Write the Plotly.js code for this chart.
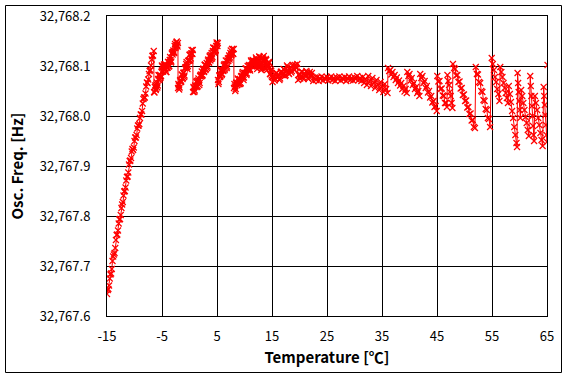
<!DOCTYPE html>
<html><head><meta charset="utf-8">
<script src="https://cdn.plot.ly/plotly-3.0.1.min.js"></script>
<style>html,body{margin:0;padding:0;background:#fff}#chart{width:567px;height:378px}</style>
</head><body><div id="chart"></div>
<script>
const xTickVals = [-15, -5, 5, 15, 25, 35, 45, 55, 65];
const xTickText = ['-15', '-5', '5', '15', '25', '35', '45', '55', '65'];
const yTickVals = [32767.6, 32767.7, 32767.8, 32767.9, 32768.0, 32768.1, 32768.2];
const yTickText = ['32,767.6', '32,767.7', '32,767.8', '32,767.9', '32,768.0', '32,768.1', '32,768.2'];

// warm-up ramp
const warmupTemp = [-15,-14.875,-14.75,-14.625,-14.5,-14.375,-14.25,-14.125,-14,-13.875,-13.75,-13.625,-13.5,-13.375,-13.25,-13.125,-13,-12.875,-12.75,-12.625,-12.5,-12.375,-12.25,-12.125,-12,-11.875,-11.75,-11.625,-11.5,-11.375,-11.25,-11.125,-11,-10.875,-10.75,-10.625,-10.5,-10.375,-10.25,-10.125,-10,-9.875,-9.75,-9.625,-9.5,-9.375,-9.25,-9.125,-9,-8.875,-8.75,-8.625,-8.5,-8.375,-8.25,-8.125,-8,-7.875,-7.75,-7.625,-7.5,-7.375,-7.25,-7.125,-7,-6.875,-6.75,-6.625,-6.5];
const warmupFreq = [32767.644,32767.652,32767.654,32767.661,32767.675,32767.683,32767.685,32767.694,32767.710,32767.719,32767.723,32767.726,32767.736,32767.752,32767.762,32767.763,32767.771,32767.785,32767.793,32767.794,32767.802,32767.816,32767.823,32767.828,32767.841,32767.849,32767.850,32767.857,32767.871,32767.878,32767.879,32767.887,32767.903,32767.910,32767.911,32767.916,32767.929,32767.934,32767.932,32767.937,32767.950,32767.957,32767.957,32767.962,32767.975,32767.981,32767.981,32767.984,32767.996,32768.003,32768.003,32768.010,32768.025,32768.034,32768.037,32768.037,32768.045,32768.059,32768.067,32768.066,32768.073,32768.084,32768.090,32768.092,32768.101,32768.113,32768.120,32768.121,32768.130];

// rising saw-tooth region
const risingTemp = [-6.45,-6.375,-6.3,-6.225,-6.15,-6.075,-6,-5.925,-5.85,-5.775,-5.7,-5.625,-5.55,-5.475,-5.4,-5.325,-5.25,-5.175,-5.1,-5.025,-4.95,-4.875,-4.8,-4.725,-4.65,-4.575,-4.5,-4.425,-4.35,-4.275,-4.2,-4.125,-4.05,-3.975,-3.9,-3.825,-3.75,-3.675,-3.6,-3.525,-3.45,-3.375,-3.3,-3.225,-3.15,-3.075,-3,-2.925,-2.85,-2.775,-2.7,-2.625,-2.55,-2.475,-2.4,-2.325,-2.25,-2.175,-2.1,
-2.08,-2.015,-1.95,-1.875,-1.8,-1.725,-1.65,-1.575,-1.5,-1.425,-1.35,-1.275,-1.2,-1.125,-1.05,-0.975,-0.9,-0.825,-0.75,-0.675,-0.6,-0.525,-0.45,-0.375,-0.3,-0.225,-0.15,-0.075,0,0.075,0.15,0.225,0.3,0.375,0.45,0.525,0.6,
0.64,0.72,0.8,0.875,0.95,1.025,1.1,1.175,1.25,1.325,1.4,1.475,1.55,1.625,1.7,1.775,1.85,1.925,2,2.075,2.15,2.225,2.3,2.375,2.45,2.525,2.6,2.675,2.75,2.825,2.9,2.975,3.05,3.125,3.2,3.275,3.35,3.425,3.5,3.575,3.65,3.725,3.8,3.875,3.95,4.025,4.1,4.175,4.25,4.325,4.4,4.475,4.55,4.625,4.7,4.775,4.85,4.925,5,5.075,5.15,
5.18,5.255,5.33,5.405,5.48,5.555,5.63,5.705,5.78,5.855,5.93,6.005,6.08,6.155,6.23,6.305,6.38,6.455,6.53,6.605,6.68,6.755,6.83,6.905,6.98,7.055,7.13,7.205,7.28,7.355,7.43,7.505,7.58,7.655,7.73,7.805,7.88,7.965,8.05,
8.09,8.17,8.25,8.325,8.4,8.475,8.55,8.625,8.7,8.775,8.85,8.925,9,9.075,9.15,9.225,9.3,9.375,9.45,9.525,9.6,9.675,9.75,9.825,9.9,9.975,10.05,10.125,10.2,10.275,10.35,10.425,10.5,10.575,10.65,10.725,10.8,10.875,10.95,11.025,11.1,11.175,11.25,11.325,11.4,11.475,11.55,11.625,11.7,11.775,11.85,11.925,
12,12.075,12.15,12.225,12.3,12.375,12.45,12.525,12.6,12.675,12.75,12.825,12.9,12.975,13.05,13.125,13.2,13.275,13.35,13.425,13.5,13.575,13.65,13.725,13.8,13.875,13.95,14.025,14.1,14.175,14.25,14.325,14.4,14.475,14.55,14.625,14.7,14.775,14.85,14.925,15];
const risingFreq = [32768.048,32768.047,32768.058,32768.061,32768.052,32768.054,32768.063,32768.067,32768.057,32768.061,32768.074,32768.082,32768.081,32768.072,32768.075,32768.082,32768.077,32768.080,32768.088,32768.101,32768.099,32768.089,32768.089,32768.100,32768.103,32768.097,32768.102,32768.104,32768.093,32768.088,32768.088,32768.099,32768.096,32768.097,32768.108,32768.108,32768.099,32768.100,32768.112,32768.118,32768.112,32768.107,32768.109,32768.125,32768.127,32768.123,32768.128,32768.131,32768.126,32768.127,32768.140,32768.144,32768.136,32768.139,32768.147,32768.149,32768.142,32768.139,32768.146,
32768.056,32768.064,32768.061,32768.053,32768.057,32768.071,32768.072,32768.068,32768.069,32768.083,32768.082,32768.074,32768.076,32768.086,32768.087,32768.078,32768.081,32768.095,32768.097,32768.098,32768.104,32768.108,32768.098,32768.094,32768.100,32768.110,32768.111,32768.111,32768.122,32768.123,32768.111,32768.115,32768.125,32768.132,32768.125,32768.124,32768.132,
32768.048,32768.058,32768.056,32768.048,32768.051,32768.061,32768.058,32768.060,32768.068,32768.070,32768.058,32768.060,32768.071,32768.075,32768.070,32768.062,32768.066,32768.080,32768.082,32768.079,32768.083,32768.089,32768.080,32768.082,32768.093,32768.095,32768.088,32768.089,32768.102,32768.103,32768.092,32768.094,32768.101,32768.106,32768.096,32768.099,32768.111,32768.113,32768.107,32768.107,32768.119,32768.121,32768.111,32768.114,32768.122,32768.126,32768.115,32768.118,32768.130,32768.137,32768.136,32768.127,32768.129,32768.136,32768.130,32768.132,32768.140,32768.147,32768.144,32768.140,32768.146,
32768.072,32768.064,32768.068,32768.081,32768.081,32768.078,32768.080,32768.092,32768.090,32768.082,32768.084,32768.092,32768.091,32768.090,32768.101,32768.103,32768.092,32768.095,32768.104,32768.111,32768.103,32768.096,32768.099,32768.111,32768.115,32768.110,32768.116,32768.121,32768.113,32768.117,32768.126,32768.131,32768.121,32768.123,32768.134,32768.134,32768.125,32768.124,32768.134,
32768.056,32768.064,32768.059,32768.050,32768.054,32768.066,32768.067,32768.062,32768.062,32768.075,32768.073,32768.064,32768.064,32768.073,32768.074,32768.064,32768.066,32768.079,32768.080,32768.080,32768.085,32768.088,32768.077,32768.072,32768.077,32768.086,32768.086,32768.085,32768.095,32768.095,32768.082,32768.085,32768.094,32768.100,32768.092,32768.092,32768.101,32768.102,32768.094,32768.091,32768.100,32768.111,32768.109,32768.101,32768.099,32768.112,32768.110,32768.104,32768.108,32768.110,32768.103,32768.100,
32768.108,32768.117,32768.114,32768.101,32768.094,32768.104,32768.100,32768.101,32768.112,32768.119,32768.118,32768.102,32768.098,32768.101,32768.092,32768.096,32768.106,32768.117,32768.115,32768.113,32768.120,32768.112,32768.096,32768.094,32768.104,32768.114,32768.112,32768.099,32768.092,32768.103,32768.100,32768.099,32768.108,32768.106,32768.096,32768.084,32768.084,32768.093,32768.090,32768.081,32768.078];

// plateau around room temperature
const plateauTemp = [15.1,15.225,15.35,15.475,15.6,15.725,15.85,15.975,16.1,16.225,16.35,16.475,16.6,16.725,16.85,16.975,17.1,17.225,17.35,17.475,17.6,17.725,17.85,17.975,18.1,18.225,18.35,18.475,18.6,18.725,18.85,18.975,19.1,19.225,19.35,19.475,19.6,
19.75,19.875,20,20.125,20.25,20.375,20.5,20.625,20.75,20.875,21,21.125,21.25,21.375,21.5,21.625,21.75,21.875,22,22.125,22.25,
22.5,22.75,23,23.25,23.5,23.75,24,24.25,24.5,24.75,25,25.25,25.5,25.75,26,26.25,26.5,26.75,27,27.25,27.5,27.75,28,28.25,28.5,28.75,29,29.25,29.5,29.75,30,30.25,30.5,30.75,31,
31.25,31.5,31.75,32,32.25,32.5,32.75,33,33.25,33.5,33.75,34,34.25,34.5,34.75,35,35.25,35.5,35.75,36];
const plateauFreq = [32768.068,32768.078,32768.080,32768.071,32768.074,32768.086,32768.086,32768.079,32768.078,32768.082,32768.072,32768.075,32768.088,32768.089,32768.082,32768.082,32768.094,32768.093,32768.080,32768.082,32768.090,32768.101,32768.098,32768.086,32768.084,32768.094,32768.096,32768.087,32768.090,32768.102,32768.102,32768.094,32768.092,32768.102,32768.098,32768.096,32768.104,
32768.072,32768.082,32768.084,32768.075,32768.078,32768.089,32768.088,32768.078,32768.074,32768.085,32768.082,32768.081,32768.090,32768.087,32768.076,32768.074,32768.084,32768.088,32768.080,32768.080,32768.086,
32768.070,32768.077,32768.072,32768.078,32768.070,32768.075,32768.079,32768.071,32768.076,32768.073,32768.078,32768.071,32768.075,32768.079,32768.072,32768.076,32768.070,32768.077,32768.074,32768.079,32768.071,32768.076,32768.073,32768.078,32768.070,32768.075,32768.079,32768.072,32768.076,32768.071,32768.077,32768.074,32768.080,32768.072,32768.076,
32768.070,32768.078,32768.066,32768.074,32768.062,32768.080,32768.070,32768.060,32768.076,32768.066,32768.056,32768.072,32768.062,32768.052,32768.068,32768.058,32768.048,32768.064,32768.054,32768.046];

// falling saw-tooth region
const fallingTemp = [36.1,36.3,36.5,36.7,36.9,37.1,37.3,37.5,37.7,37.9,38.1,38.3,38.5,38.7,38.9,39.1,39.3,39.5,
39.6,39.8,40,40.2,40.4,40.6,40.8,41,41.2,41.4,41.6,41.8,
41.95,42.15,42.35,42.55,42.75,42.95,43.15,43.35,43.55,43.75,43.95,44.15,44.35,44.55,44.75,44.95,
45.05,45.25,45.45,45.65,45.85,46.05,46.25,46.45,46.65,46.8,
46.9,47.05,47.2,47.35,47.5,47.65,47.8,
47.9,48.1,48.3,48.5,48.7,48.9,49.1,49.3,49.5,49.7,49.9,50.1,50.3,50.5,50.7,50.9,51.1,51.3,51.5,51.7,51.9,
52.05,52.25,52.45,52.65,52.85,53.05,53.25,53.45,53.65,53.85,54.05,54.25,54.45,54.65,
54.95,55.15,55.35,55.55,55.75,55.95,56.15,56.35,
56.5,56.7,56.9,57.1,57.3,57.5,57.7,57.9,
58.05,58.25,58.45,58.65,58.85,59.05,59.25,59.45,59.55,
59.65,59.75,59.85,59.95,60.05,60.15,
60.3,60.5,60.7,60.9,61.1,61.3,61.5,61.7,
61.95,62.05,62.15,62.25,62.35,62.45,62.55,62.65,
62.8,63,63.2,63.4,63.6,63.8,64,64.2,
64.4,64.5,64.6,64.7,64.8,64.9,65,65.1];
const fallingFreq = [32768.096,32768.090,32768.092,32768.083,32768.088,32768.078,32768.082,32768.072,32768.077,32768.066,32768.071,32768.061,32768.066,32768.054,32768.060,32768.049,32768.054,32768.046,
32768.088,32768.080,32768.084,32768.071,32768.076,32768.062,32768.066,32768.054,32768.058,32768.046,32768.050,32768.040,
32768.084,32768.076,32768.080,32768.066,32768.070,32768.056,32768.060,32768.047,32768.050,32768.037,32768.040,32768.027,32768.030,32768.018,32768.020,32768.010,
32768.080,32768.069,32768.070,32768.054,32768.055,32768.041,32768.040,32768.026,32768.026,32768.018,
32768.082,32768.070,32768.062,32768.048,32768.040,32768.026,32768.016,
32768.104,32768.096,32768.094,32768.081,32768.082,32768.068,32768.069,32768.055,32768.056,32768.042,32768.043,32768.030,32768.031,32768.017,32768.018,32768.004,32768.005,32767.991,32767.992,32767.978,32767.976,
32768.098,32768.084,32768.083,32768.068,32768.066,32768.050,32768.048,32768.032,32768.030,32768.014,32768.012,32767.996,32767.994,32767.978,
32768.116,32768.104,32768.092,32768.078,32768.068,32768.054,32768.044,32768.030,
32768.098,32768.088,32768.078,32768.066,32768.056,32768.046,32768.036,32768.026,
32768.060,32768.044,32768.028,32768.010,32767.996,32767.978,32767.962,32767.946,32767.938,
32768.086,32768.066,32768.048,32768.030,32768.012,32767.996,
32768.052,32768.040,32768.026,32768.012,32767.998,32767.986,32767.972,32767.960,
32768.080,32768.060,32768.040,32768.020,32768.000,32767.980,32767.962,32767.950,
32768.040,32768.026,32768.012,32767.996,32767.982,32767.966,32767.952,32767.940,
32768.058,32768.040,32768.022,32768.002,32767.982,32767.962,32767.948,32768.102];

const temperature = [].concat(warmupTemp, risingTemp, plateauTemp, fallingTemp);
const frequency = [].concat(warmupFreq, risingFreq, plateauFreq, fallingFreq);

const FONT = "'Noto Sans CJK KR', 'Malgun Gothic', sans-serif";
const L = 107, R = 20, T = 16, B = 62, W = 567, H = 378;
const pw = W - L - R, ph = H - T - B;

Plotly.newPlot('chart', [{
  x: temperature, y: frequency, type: 'scatter', mode: 'lines+markers',
  line: {color: '#ff0000', width: 1},
  marker: {symbol: 'x-thin-open', size: 6, color: '#ff0000', line: {color: '#ff0000', width: 1.2}},
  hoverinfo: 'skip', showlegend: false
}], {
  width: W, height: H,
  margin: {l: L, r: R, t: T, b: B, pad: 0},
  paper_bgcolor: '#ffffff', plot_bgcolor: '#ffffff',
  font: {family: FONT, size: 13, color: '#000'},
  xaxis: {
    range: [-15, 65], tickmode: 'array', tickvals: xTickVals, ticktext: xTickText,
    showgrid: true, gridcolor: '#000', gridwidth: 1, zeroline: false,
    showline: true, linecolor: '#000', linewidth: 1, mirror: true, ticks: '',
    ticklabelstandoff: 8, tickfont: {family: FONT, size: 13, color: '#000'},
    title: {text: 'Temperature [℃]', font: {family: FONT, size: 15, color: '#000', weight: 'bold'}, standoff: 8}
  },
  yaxis: {
    range: [32767.6, 32768.2], tickmode: 'array', tickvals: yTickVals, ticktext: yTickText,
    showgrid: true, gridcolor: '#000', gridwidth: 1, zeroline: false,
    showline: true, linecolor: '#000', linewidth: 1, mirror: true, ticks: '',
    ticklabelstandoff: 13, tickfont: {family: FONT, size: 13, color: '#000'},
    title: {text: 'Osc. Freq. [Hz]', font: {family: FONT, size: 15, color: '#000', weight: 'bold'}, standoff: 12}
  },
  shapes: [{
    type: 'rect', xref: 'paper', yref: 'paper',
    x0: (5.5 - L) / pw, x1: (561.5 - L) / pw,
    y0: (H - B - 372.5) / ph, y1: (H - B - 5.5) / ph,
    line: {color: '#000', width: 1}, fillcolor: 'rgba(0,0,0,0)', layer: 'below'
  }]
}, {displayModeBar: false, staticPlot: true});
</script>
</body></html>
